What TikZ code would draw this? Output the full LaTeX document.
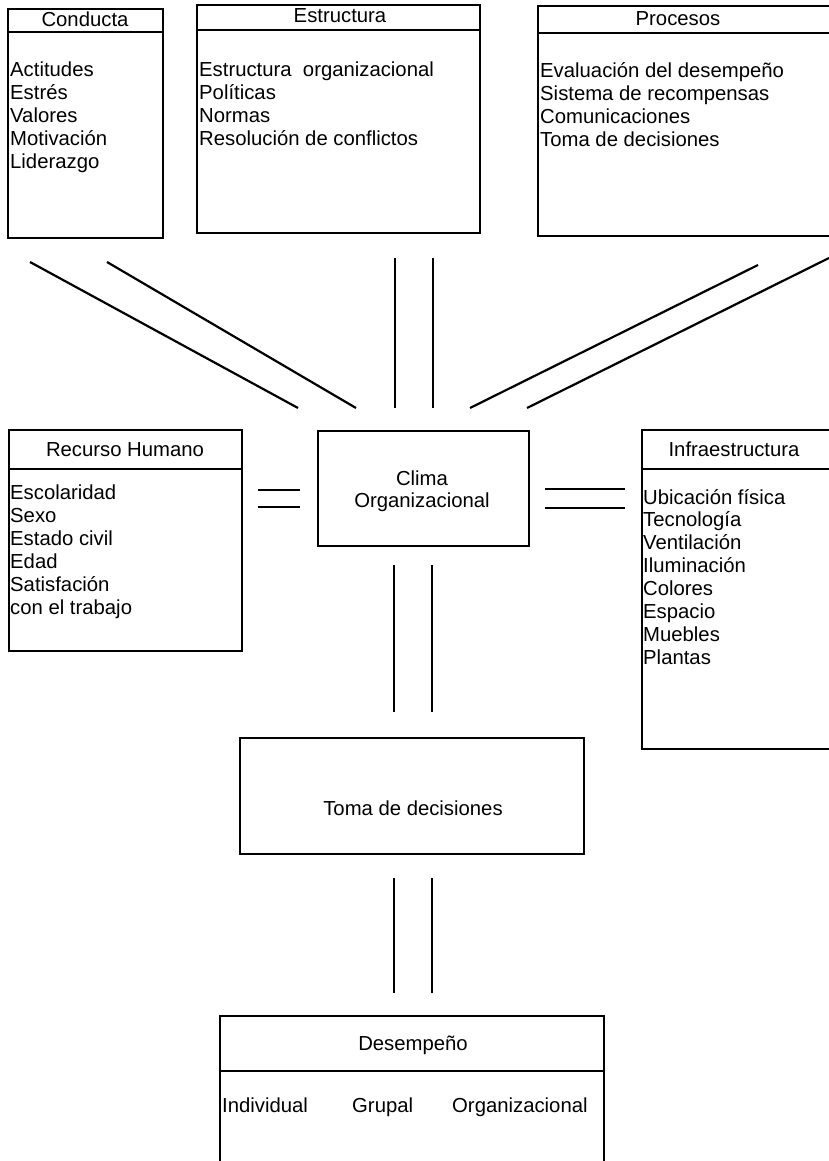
\documentclass[tikz,border=0pt]{standalone}
\usepackage{fontspec}
\setmainfont{Liberation Sans}
\newcommand\txtsize{\fontsize{20.3}{23}\selectfont}
\begin{document}
\begin{tikzpicture}[x=1pt,y=-1pt,
  frame/.style={draw, line width=1.8pt, inner sep=0pt, anchor=north west, rectangle},
  rule/.style={line width=1.8pt},
  title/.style={font=\txtsize, inner sep=0pt, anchor=base},
  entry/.style={font=\txtsize, inner sep=0pt, anchor=base west},
  link/.style={line width=2.2pt}]
\useasboundingbox (0,0) rectangle (829,1161);
\clip (0,0) rectangle (829,1161);

% ---- upper row of boxes ----
\node[frame, minimum width=155pt, minimum height=229pt] (conducta) at (7,8) {};
\draw[rule] (7,32) -- (162,32);
\node[title] (conductaT) at (85,27) {Conducta};
\foreach \t [count=\i from 0] in {Actitudes, Estrés, Valores, Motivación, Liderazgo}
  \node[entry] (cond\i) at (10,{77+23*\i}) {\t};

\node[frame, minimum width=283pt, minimum height=228pt] (estructura) at (196,4) {};
\draw[rule] (196,30) -- (479,30);
\node[title] (estructuraT) at (340,23) {Estructura};
\foreach \t [count=\i from 0] in {Estructura\ \ organizacional, Políticas, Normas, Resolución de conflictos}
  \node[entry] (estr\i) at (199,{77+23*\i}) {\t};

\node[frame, minimum width=300pt, minimum height=230pt] (procesos) at (537,5) {};
\draw[rule] (537,33) -- (840,33);
\node[title] (procesosT) at (678,26) {Procesos};
\foreach \t [count=\i from 0] in {Evaluación del desempeño, Sistema de recompensas, Comunicaciones, Toma de decisiones}
  \node[entry] (proc\i) at (540,{78+23*\i}) {\t};

% ---- middle row ----
\node[frame, minimum width=233pt, minimum height=221pt] (rh) at (8,429) {};
\draw[rule] (8,469) -- (241,469);
\node[title] (rhT) at (125,456) {Recurso Humano};
\foreach \t [count=\i from 0] in {Escolaridad, Sexo, Estado civil, Edad, Satisfación, con el trabajo}
  \node[entry] (rh\i) at (10,{499+23*\i}) {\t};

\node[frame, minimum width=211pt, minimum height=115pt] (clima) at (317,430) {};
\node[title] (clima1) at (422,485) {Clima};
\node[title] (clima2) at (422,507) {Organizacional};

\node[frame, minimum width=200pt, minimum height=319pt] (infra) at (641,429) {};
\draw[rule] (641,469) -- (840,469);
\node[title] (infraT) at (734,456) {Infraestructura};
\foreach \t [count=\i from 0] in {Ubicación física, Tecnología, Ventilación, Iluminación, Colores, Espacio, Muebles, Plantas}
  \node[entry] (inf\i) at (643,{504+22.9*\i}) {\t};

% ---- lower boxes ----
\node[frame, minimum width=344pt, minimum height=116pt] (toma) at (239,737) {};
\node[title] (tomaT) at (413,815) {Toma de decisiones};

\node[frame, minimum width=384pt, minimum height=200pt] (desemp) at (219,1015) {};
\draw[rule] (219,1071) -- (603,1071);
\node[title] (desempT) at (413,1050) {Desempeño};
\node[entry] (ind) at (222,1112) {Individual};
\node[entry] (grp) at (352,1112) {Grupal};
\node[entry] (org) at (452,1112) {Organizacional};

% ---- connectors (double lines) ----
\coordinate (a1) at (30,262);  \coordinate (a2) at (298,408);
\coordinate (b1) at (107,262); \coordinate (b2) at (356,408);
\coordinate (c1) at (395,258); \coordinate (c2) at (395,408);
\coordinate (d1) at (433,258); \coordinate (d2) at (433,408);
\coordinate (e1) at (758,265); \coordinate (e2) at (470,408);
\coordinate (f1) at (829,258); \coordinate (f2) at (527,408);
\draw[link] (a1) -- (a2);
\draw[link] (b1) -- (b2);
\draw[link] (c1) -- (c2);
\draw[link] (d1) -- (d2);
\draw[link] (e1) -- (e2);
\draw[link] (f1) -- (f2);

\coordinate (g1) at (258,490); \coordinate (g2) at (300,490);
\coordinate (h1) at (258,507); \coordinate (h2) at (300,507);
\coordinate (i1) at (545,489); \coordinate (i2) at (625,489);
\coordinate (j1) at (545,508); \coordinate (j2) at (625,508);
\draw[link] (g1) -- (g2);
\draw[link] (h1) -- (h2);
\draw[link] (i1) -- (i2);
\draw[link] (j1) -- (j2);

\coordinate (k1) at (394,565); \coordinate (k2) at (394,712);
\coordinate (l1) at (432,565); \coordinate (l2) at (432,712);
\coordinate (m1) at (394,878); \coordinate (m2) at (394,993);
\coordinate (n1) at (432,878); \coordinate (n2) at (432,993);
\draw[link] (k1) -- (k2);
\draw[link] (l1) -- (l2);
\draw[link] (m1) -- (m2);
\draw[link] (n1) -- (n2);
\end{tikzpicture}
\end{document}
